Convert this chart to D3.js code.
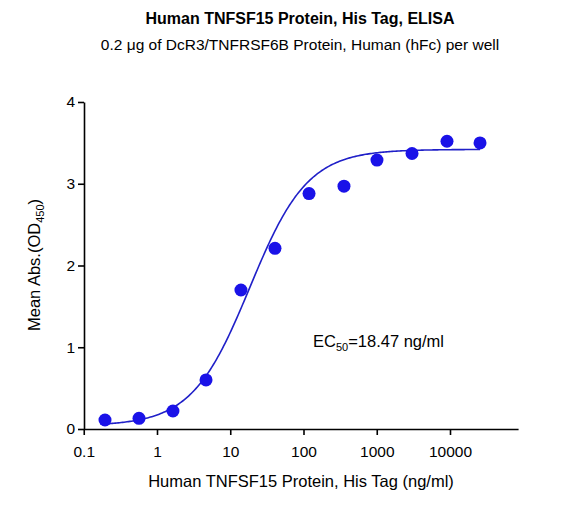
<!DOCTYPE html>
<html><head><meta charset="utf-8">
<script src="https://cdn.jsdelivr.net/npm/d3@7"></script>
<style>body{margin:0;background:#fff;font-family:Arial,"Liberation Sans",sans-serif;}</style>
</head><body><div id="chart"></div>
<script>
let conc = [0.195, 0.568, 1.65, 4.67, 14.0, 40.8, 119, 357, 1007, 3030, 9100, 25700];
let absorb = [0.11, 0.13, 0.22, 0.60, 1.70, 2.21, 2.88, 2.97, 3.29, 3.37, 3.52, 3.50];
// 4PL fit parameters
let fit = { bottom: 0.04, top: 3.42, ec50: 18.47, hill: 1.1 };
let xTicks = [0.1, 1, 10, 100, 1000, 10000];
let yTicks = [0, 1, 2, 3, 4];

let width = 573, height = 507;
let svg = d3.select("#chart").append("svg").attr("width", width).attr("height", height);

let x = d3.scaleLog().domain([0.1, 85000]).range([83.75, 83.75 + 73.25 * Math.log10(850000)]);
let y = d3.scaleLinear().domain([0, 4]).range([429, 102]);

svg.append("text").attr("x", 300).attr("y", 24).attr("text-anchor", "middle")
	.attr("font-weight", "bold").attr("font-size", 16).text("Human TNFSF15 Protein, His Tag, ELISA");
svg.append("text").attr("x", 300).attr("y", 50).attr("text-anchor", "middle")
	.attr("font-size", 15.5).text("0.2 μg of DcR3/TNFRSF6B Protein, Human (hFc) per well");

svg.append("g").attr("transform", "translate(0,429)")
	.call(d3.axisBottom(x).tickValues(xTicks).tickFormat(d3.format("~f")).tickSize(6).tickSizeOuter(0))
	.call(g => g.selectAll("text").attr("font-size", 15.5).attr("fill", "#000").attr("font-family", "Arial,Liberation Sans").attr("dy", "1.2em"))
	.call(g => g.selectAll("path,line").attr("stroke", "#000").attr("stroke-width", 1.6));

svg.append("g").attr("transform", "translate(84,0)")
	.call(d3.axisLeft(y).tickValues(yTicks).tickFormat(d3.format("d")).tickSize(6).tickSizeOuter(0))
	.call(g => g.selectAll("text").attr("font-size", 15.5).attr("fill", "#000").attr("font-family", "Arial,Liberation Sans"))
	.call(g => g.selectAll("path,line").attr("stroke", "#000").attr("stroke-width", 1.6));

let yl = svg.append("text").attr("transform", "translate(40,265) rotate(-90)")
	.attr("text-anchor", "middle").attr("font-size", 16.5);
yl.append("tspan").text("Mean Abs.(OD");
yl.append("tspan").attr("font-size", 11).attr("dy", 4).text("450");
yl.append("tspan").attr("dy", -4).text(")");

svg.append("text").attr("x", 301).attr("y", 487).attr("text-anchor", "middle")
	.attr("font-size", 16.5).text("Human TNFSF15 Protein, His Tag (ng/ml)");

let ec = svg.append("text").attr("x", 313).attr("y", 347).attr("font-size", 16.5);
ec.append("tspan").text("EC");
ec.append("tspan").attr("font-size", 11).attr("dy", 4).text("50");
ec.append("tspan").attr("dy", -4).text("=18.47 ng/ml");

let xs = d3.range(Math.log10(0.17), Math.log10(26000), 0.02).map(v => Math.pow(10, v));
let curve = xs.map(c => [c, fit.bottom + (fit.top - fit.bottom) / (1 + Math.pow(fit.ec50 / c, fit.hill))]);
svg.append("path").datum(curve).attr("fill", "none").attr("stroke", "#2020c8").attr("stroke-width", 1.6)
	.attr("d", d3.line().x(d => x(d[0])).y(d => y(d[1])));

svg.selectAll(".dot").data(conc).enter().append("circle")
	.attr("cx", d => x(d)).attr("cy", (d, i) => y(absorb[i])).attr("r", 6.5).attr("fill", "#1a12e8");
</script></body></html>
